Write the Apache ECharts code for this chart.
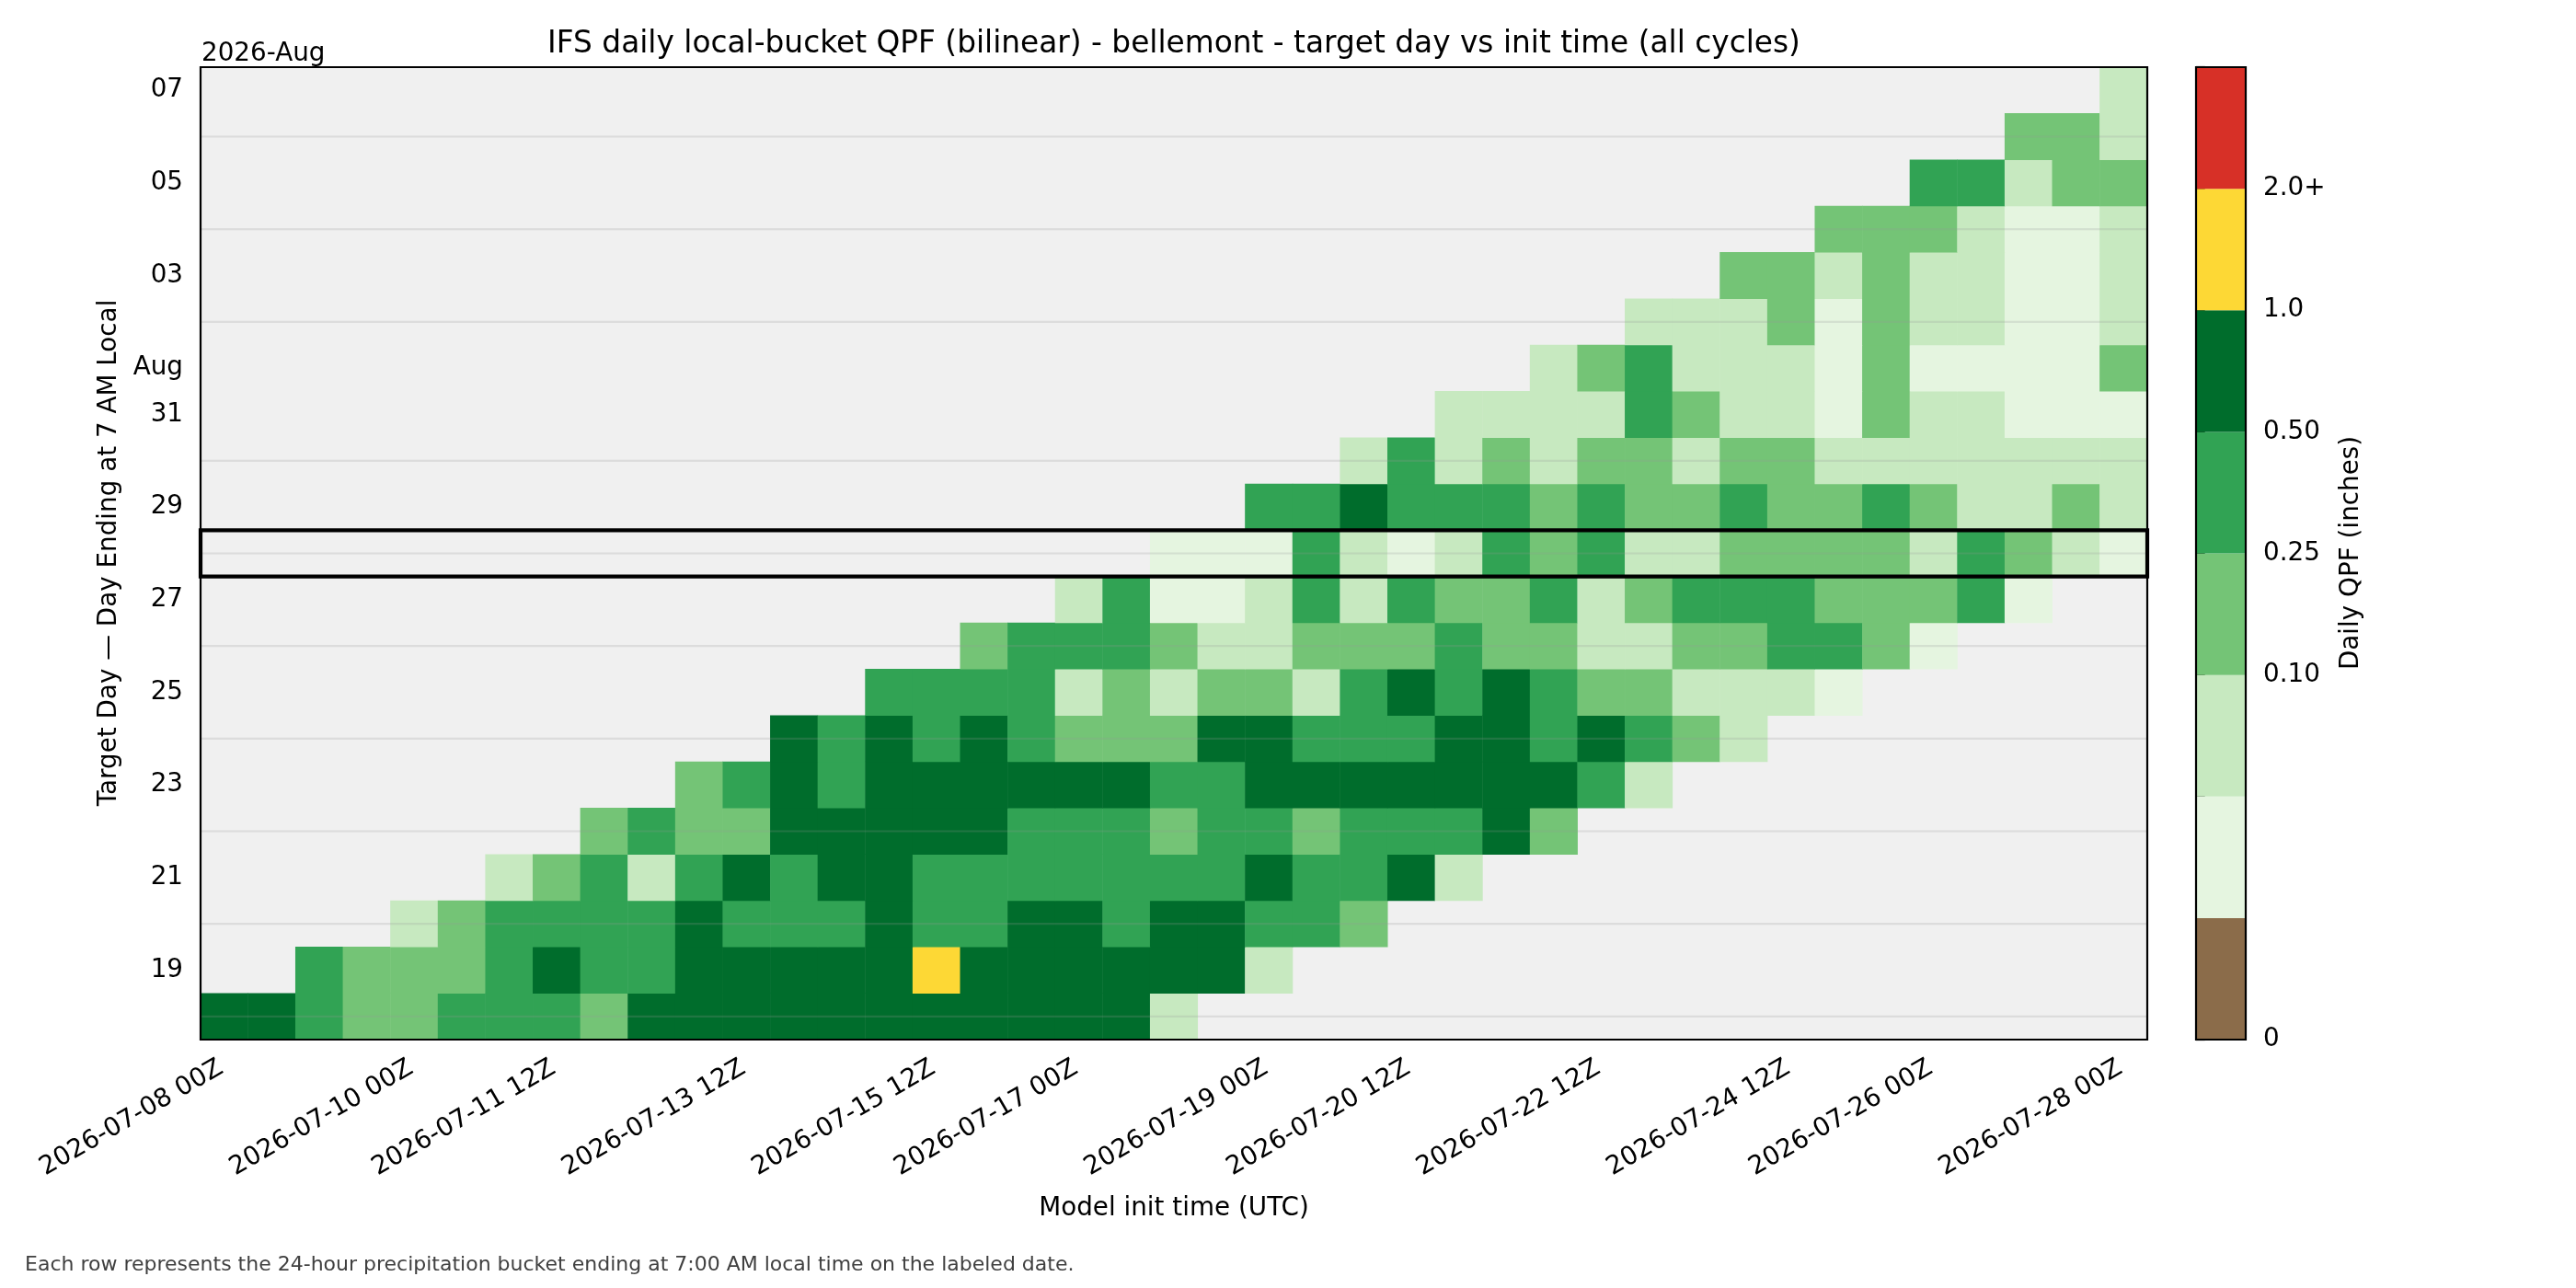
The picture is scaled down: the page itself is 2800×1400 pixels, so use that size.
<!DOCTYPE html>
<html>
<head>
<meta charset="utf-8">
<script src="https://cdn.jsdelivr.net/npm/echarts@6/dist/echarts.min.js"></script>
<style>
html,body{margin:0;padding:0;background:#ffffff;}
#chart{width:2800px;height:1400px;}
</style>
</head>
<body>
<div id="chart"></div>
<script>
// ---------------- DATA ----------------
const _ = null; // no forecast for this (init, target day) pair

// Model init cycles (x categories)
const initTimes = [
  '2026-07-08 00Z','2026-07-08 12Z','2026-07-09 00Z','2026-07-09 12Z','2026-07-10 00Z','2026-07-10 12Z',
  '2026-07-11 00Z','2026-07-11 12Z','2026-07-12 00Z','2026-07-12 12Z','2026-07-13 00Z','2026-07-13 12Z',
  '2026-07-14 00Z','2026-07-14 12Z','2026-07-15 00Z','2026-07-15 12Z','2026-07-16 00Z','2026-07-16 12Z',
  '2026-07-17 00Z','2026-07-17 12Z','2026-07-18 00Z','2026-07-18 12Z','2026-07-19 00Z','2026-07-19 12Z',
  '2026-07-20 00Z','2026-07-20 12Z','2026-07-21 00Z','2026-07-21 12Z','2026-07-22 00Z','2026-07-22 12Z',
  '2026-07-23 00Z','2026-07-23 12Z','2026-07-24 00Z','2026-07-24 12Z','2026-07-25 00Z','2026-07-25 12Z',
  '2026-07-26 00Z','2026-07-26 12Z','2026-07-27 00Z','2026-07-27 12Z','2026-07-28 00Z'
];
// x tick labels that are shown
const xTickShown = [
  '2026-07-08 00Z','2026-07-10 00Z','2026-07-11 12Z','2026-07-13 12Z','2026-07-15 12Z','2026-07-17 00Z',
  '2026-07-19 00Z','2026-07-20 12Z','2026-07-22 12Z','2026-07-24 12Z','2026-07-26 00Z','2026-07-28 00Z'
];

// Target days (y categories, bottom to top)
const targetDays = [
  '2026-07-18','2026-07-19','2026-07-20','2026-07-21','2026-07-22','2026-07-23','2026-07-24',
  '2026-07-25','2026-07-26','2026-07-27','2026-07-28','2026-07-29','2026-07-30','2026-07-31',
  '2026-08-01','2026-08-02','2026-08-03','2026-08-04','2026-08-05','2026-08-06','2026-08-07'
];
// y tick labels ('' = minor tick)
const targetDayTicks = ['','19','','21','','23','','25','','27','','29','','31','Aug','','03','','05','','07'];
const offsetLabel = '2026-Aug';

// Daily QPF (inches), one array per target day, indexed by init cycle
const qpfJul18 = [0.72,0.72,0.36,0.17,0.17,0.36,0.36,0.36,0.17,0.72,0.72,0.72,0.72,0.72,0.72,0.72,0.72,0.72,0.72,0.72,0.07];
const qpfJul19 = [_,_,0.36,0.17,0.17,0.17,0.36,0.72,0.36,0.36,0.72,0.72,0.72,0.72,0.72,1.25,0.72,0.72,0.72,0.72,0.72,0.72,0.07];
const qpfJul20 = [_,_,_,_,0.07,0.17,0.36,0.36,0.36,0.36,0.72,0.36,0.36,0.36,0.72,0.36,0.36,0.72,0.72,0.36,0.72,0.72,0.36,0.36,0.17];
const qpfJul21 = [_,_,_,_,_,_,0.07,0.17,0.36,0.07,0.36,0.72,0.36,0.72,0.72,0.36,0.36,0.36,0.36,0.36,0.36,0.36,0.72,0.36,0.36,0.72,0.07];
const qpfJul22 = [_,_,_,_,_,_,_,_,0.17,0.36,0.17,0.17,0.72,0.72,0.72,0.72,0.72,0.36,0.36,0.36,0.17,0.36,0.36,0.17,0.36,0.36,0.36,0.72,0.17];
const qpfJul23 = [_,_,_,_,_,_,_,_,_,_,0.17,0.36,0.72,0.36,0.72,0.72,0.72,0.72,0.72,0.72,0.36,0.36,0.72,0.72,0.72,0.72,0.72,0.72,0.72,0.36,0.07];
const qpfJul24 = [_,_,_,_,_,_,_,_,_,_,_,_,0.72,0.36,0.72,0.36,0.72,0.36,0.17,0.17,0.17,0.72,0.72,0.36,0.36,0.36,0.72,0.72,0.36,0.72,0.36,0.17,0.07];
const qpfJul25 = [_,_,_,_,_,_,_,_,_,_,_,_,_,_,0.36,0.36,0.36,0.36,0.07,0.17,0.07,0.17,0.17,0.07,0.36,0.72,0.36,0.72,0.36,0.17,0.17,0.07,0.07,0.07,0.03];
const qpfJul26 = [_,_,_,_,_,_,_,_,_,_,_,_,_,_,_,_,0.17,0.36,0.36,0.36,0.17,0.07,0.07,0.17,0.17,0.17,0.36,0.17,0.17,0.07,0.07,0.17,0.17,0.36,0.36,0.17,0.03];
const qpfJul27 = [_,_,_,_,_,_,_,_,_,_,_,_,_,_,_,_,_,_,0.07,0.36,0.03,0.03,0.07,0.36,0.07,0.36,0.17,0.17,0.36,0.07,0.17,0.36,0.36,0.36,0.17,0.17,0.17,0.36,0.03];
const qpfJul28 = [_,_,_,_,_,_,_,_,_,_,_,_,_,_,_,_,_,_,_,_,0.03,0.03,0.03,0.36,0.07,0.03,0.07,0.36,0.17,0.36,0.07,0.07,0.17,0.17,0.17,0.17,0.07,0.36,0.17,0.07,0.03];
const qpfJul29 = [_,_,_,_,_,_,_,_,_,_,_,_,_,_,_,_,_,_,_,_,_,_,0.36,0.36,0.72,0.36,0.36,0.36,0.17,0.36,0.17,0.17,0.36,0.17,0.17,0.36,0.17,0.07,0.07,0.17,0.07];
const qpfJul30 = [_,_,_,_,_,_,_,_,_,_,_,_,_,_,_,_,_,_,_,_,_,_,_,_,0.07,0.36,0.07,0.17,0.07,0.17,0.17,0.07,0.17,0.17,0.07,0.07,0.07,0.07,0.07,0.07,0.07];
const qpfJul31 = [_,_,_,_,_,_,_,_,_,_,_,_,_,_,_,_,_,_,_,_,_,_,_,_,_,_,0.07,0.07,0.07,0.07,0.36,0.17,0.07,0.07,0.03,0.17,0.07,0.07,0.03,0.03,0.03];
const qpfAug01 = [_,_,_,_,_,_,_,_,_,_,_,_,_,_,_,_,_,_,_,_,_,_,_,_,_,_,_,_,0.07,0.17,0.36,0.07,0.07,0.07,0.03,0.17,0.03,0.03,0.03,0.03,0.17];
const qpfAug02 = [_,_,_,_,_,_,_,_,_,_,_,_,_,_,_,_,_,_,_,_,_,_,_,_,_,_,_,_,_,_,0.07,0.07,0.07,0.17,0.03,0.17,0.07,0.07,0.03,0.03,0.07];
const qpfAug03 = [_,_,_,_,_,_,_,_,_,_,_,_,_,_,_,_,_,_,_,_,_,_,_,_,_,_,_,_,_,_,_,_,0.17,0.17,0.07,0.17,0.07,0.07,0.03,0.03,0.07];
const qpfAug04 = [_,_,_,_,_,_,_,_,_,_,_,_,_,_,_,_,_,_,_,_,_,_,_,_,_,_,_,_,_,_,_,_,_,_,0.17,0.17,0.17,0.07,0.03,0.03,0.07];
const qpfAug05 = [_,_,_,_,_,_,_,_,_,_,_,_,_,_,_,_,_,_,_,_,_,_,_,_,_,_,_,_,_,_,_,_,_,_,_,_,0.36,0.36,0.07,0.17,0.17];
const qpfAug06 = [_,_,_,_,_,_,_,_,_,_,_,_,_,_,_,_,_,_,_,_,_,_,_,_,_,_,_,_,_,_,_,_,_,_,_,_,_,_,0.17,0.17,0.07];
const qpfAug07 = [_,_,_,_,_,_,_,_,_,_,_,_,_,_,_,_,_,_,_,_,_,_,_,_,_,_,_,_,_,_,_,_,_,_,_,_,_,_,_,_,0.07];

const qpfRows = [qpfJul18,qpfJul19,qpfJul20,qpfJul21,qpfJul22,qpfJul23,qpfJul24,qpfJul25,qpfJul26,qpfJul27,
  qpfJul28,qpfJul29,qpfJul30,qpfJul31,qpfAug01,qpfAug02,qpfAug03,qpfAug04,qpfAug05,qpfAug06,qpfAug07];

const highlightDay = '2026-07-28';

// colour classes (lower bounds, inches) and colorbar tick labels
const qpfBounds = [0, 0.01, 0.05, 0.10, 0.25, 0.50, 1.0, 2.0];
const qpfColors = ['#8b6c4a','#e5f5e0','#c7e9c0','#74c476','#31a354','#006d2c','#fdd835','#d73027'];
const cbTickLabels = ['0','','','0.10','0.25','0.50','1.0','2.0+',''];

const titleText = 'IFS daily local-bucket QPF (bilinear) - bellemont - target day vs init time (all cycles)';
const xName = 'Model init time (UTC)';
const yName = 'Target Day \u2014 Day Ending at 7 AM Local';
const cbName = 'Daily QPF (inches)';
const footnote = 'Each row represents the 24-hour precipitation bucket ending at 7:00 AM local time on the labeled date.';

// ---------------- BUILD ----------------
const FONT = 'DejaVu Sans';
const cells = [];
qpfRows.forEach((row, yi) => row.forEach((v, xi) => {
  if (v !== null && v !== undefined) cells.push([xi, yi, v]);
}));
const pieces = qpfBounds.map((b, i) => i < qpfBounds.length - 1
  ? { gte: b, lt: qpfBounds[i + 1], color: qpfColors[i] }
  : { gte: b, color: qpfColors[i] });
const cbData = qpfBounds.map((b, i) => [0, i, b]);
const dayTickMap = {};
targetDays.forEach((d, i) => { dayTickMap[d] = targetDayTicks[i]; });
const minorDays = [];
targetDays.forEach((d, i) => { if (targetDayTicks[i] === '') minorDays.push([0, i]); });
const isShownX = (i, v) => xTickShown.indexOf(v) >= 0;
const isMajorY = (i) => targetDayTicks[i] !== '';
const isMinorY = (i) => targetDayTicks[i] === '';

const txt = (extra) => Object.assign({ fontFamily: FONT, fill: '#000' }, extra);

const chart = echarts.init(document.getElementById('chart'), null, { renderer: 'canvas' });
chart.setOption({
  animation: false,
  backgroundColor: '#ffffff',
  grid: [
    { left: 218, top: 73, width: 2116, height: 1057, show: true, backgroundColor: '#f0f0f0', borderWidth: 0 },
    { left: 2387, top: 73, width: 54, height: 1057, show: false }
  ],
  xAxis: [
    {
      type: 'category', gridIndex: 0, data: initTimes, position: 'bottom',
      axisLine: { show: false },
      axisTick: { alignWithLabel: true, interval: isShownX, length: 9.7, lineStyle: { color: '#000', width: 2.2 } },
      axisLabel: { interval: isShownX, rotate: 30, margin: 27, padding: [0, 4, 0, 0],
        fontSize: 27.8, fontFamily: FONT, color: '#000' },
      splitLine: { show: false }
    },
    { type: 'value', gridIndex: 1, min: 0, max: 1, show: false }
  ],
  yAxis: [
    {
      type: 'category', gridIndex: 0, data: targetDays, position: 'left',
      axisLine: { show: false },
      axisTick: { alignWithLabel: true, interval: isMajorY, length: 9.7, lineStyle: { color: '#000', width: 2.2 } },
      axisLabel: { interval: isMajorY, formatter: (v) => dayTickMap[v], margin: 19, padding: [6, 0, 0, 0],
        fontSize: 27.8, fontFamily: FONT, color: '#000' },
      splitLine: { show: false }
    },
    {
      type: 'category', gridIndex: 0, data: targetDays, position: 'left', offset: 0,
      axisLine: { show: false },
      axisTick: { alignWithLabel: true, interval: isMinorY, length: 5.6, lineStyle: { color: '#000', width: 2.2 } },
      axisLabel: { show: false },
      splitLine: { show: false }
    },
    {
      type: 'value', gridIndex: 1, min: 0, max: 8, interval: 1, position: 'right',
      axisLine: { show: false },
      axisTick: { show: true, length: 9.7, lineStyle: { color: '#000', width: 2.2 } },
      axisLabel: { formatter: (v) => cbTickLabels[Math.round(v)] || '', margin: 19, padding: [6, 0, 0, 0],
        fontSize: 27.8, fontFamily: FONT, color: '#000' },
      splitLine: { show: false }
    }
  ],
  visualMap: {
    type: 'piecewise', show: false, dimension: 2, seriesIndex: [0, 4], pieces: pieces
  },
  series: [
    {
      type: 'heatmap', xAxisIndex: 0, yAxisIndex: 0, data: cells, progressive: 0,
      itemStyle: { borderWidth: 0 }, emphasis: { disabled: true }, z: 2
    },
    {
      type: 'custom', xAxisIndex: 0, yAxisIndex: 0, data: minorDays, encode: { x: 0, y: 1 }, silent: true, z: 3,
      renderItem: (params, api) => {
        const cs = params.coordSys;
        const y = api.coord([0, api.value(1)])[1];
        return { type: 'line', shape: { x1: cs.x, y1: y, x2: cs.x + cs.width, y2: y },
          style: { stroke: 'rgba(150,150,150,0.22)', lineWidth: 2.2 } };
      }
    },
    {
      type: 'custom', xAxisIndex: 0, yAxisIndex: 0, data: [[0, targetDays.indexOf(highlightDay)]],
      encode: { x: 0, y: 1 }, silent: true, z: 5, clip: false,
      renderItem: (params, api) => {
        const cs = params.coordSys;
        const y = api.coord([0, api.value(1)])[1];
        const h = api.size([1, 1])[1];
        return { type: 'rect', shape: { x: cs.x, y: y - h / 2, width: cs.width, height: h },
          style: { fill: 'none', stroke: '#000', lineWidth: 4.2 } };
      }
    },
    {
      type: 'custom', xAxisIndex: 0, yAxisIndex: 0, data: [[0, 0]], encode: { x: 0, y: 1 },
      silent: true, z: 4, clip: false,
      renderItem: (params, api) => {
        const cs = params.coordSys;
        return { type: 'rect', shape: { x: cs.x, y: cs.y, width: cs.width, height: cs.height },
          style: { fill: 'none', stroke: '#000', lineWidth: 2.2 } };
      }
    },
    {
      type: 'custom', xAxisIndex: 1, yAxisIndex: 2, data: cbData, encode: { x: 0, y: 1 }, silent: true, z: 2,
      renderItem: (params, api) => {
        const i = api.value(1);
        const p0 = api.coord([0, i]);
        const p1 = api.coord([1, i + 1]);
        return { type: 'rect', shape: { x: p0[0], y: p1[1], width: p1[0] - p0[0], height: p0[1] - p1[1] },
          style: { fill: api.visual('color') } };
      }
    },
    {
      type: 'custom', xAxisIndex: 1, yAxisIndex: 2, data: [[0, 0]], encode: { x: 0, y: 1 },
      silent: true, z: 4, clip: false,
      renderItem: (params, api) => {
        const cs = params.coordSys;
        return { type: 'rect', shape: { x: cs.x, y: cs.y, width: cs.width, height: cs.height },
          style: { fill: 'none', stroke: '#000', lineWidth: 2.2 } };
      }
    }
  ],
  graphic: [
    { type: 'text', x: 1276, y: 48, silent: true,
      style: txt({ text: titleText, fontSize: 32.8, align: 'center', verticalAlign: 'middle',
        textAlign: 'center', textVerticalAlign: 'middle' }) },
    { type: 'text', x: 219, y: 59, silent: true,
      style: txt({ text: offsetLabel, fontSize: 27.8, align: 'left', verticalAlign: 'middle',
        textAlign: 'left', textVerticalAlign: 'middle' }) },
    { type: 'text', x: 1276, y: 1314, silent: true,
      style: txt({ text: xName, fontSize: 27.8, align: 'center', verticalAlign: 'middle',
        textAlign: 'center', textVerticalAlign: 'middle' }) },
    { type: 'text', x: 119, y: 601, rotation: Math.PI / 2, silent: true,
      style: txt({ text: yName, fontSize: 27.8, align: 'center', verticalAlign: 'middle',
        textAlign: 'center', textVerticalAlign: 'middle' }) },
    { type: 'text', x: 2556, y: 601, rotation: Math.PI / 2, silent: true,
      style: txt({ text: cbName, fontSize: 27.8, align: 'center', verticalAlign: 'middle',
        textAlign: 'center', textVerticalAlign: 'middle' }) },
    { type: 'text', x: 27, y: 1375, silent: true,
      style: txt({ text: footnote, fontSize: 22, fill: '#404040', align: 'left', verticalAlign: 'middle',
        textAlign: 'left', textVerticalAlign: 'middle' }) }
  ]
});
</script>
</body>
</html>
